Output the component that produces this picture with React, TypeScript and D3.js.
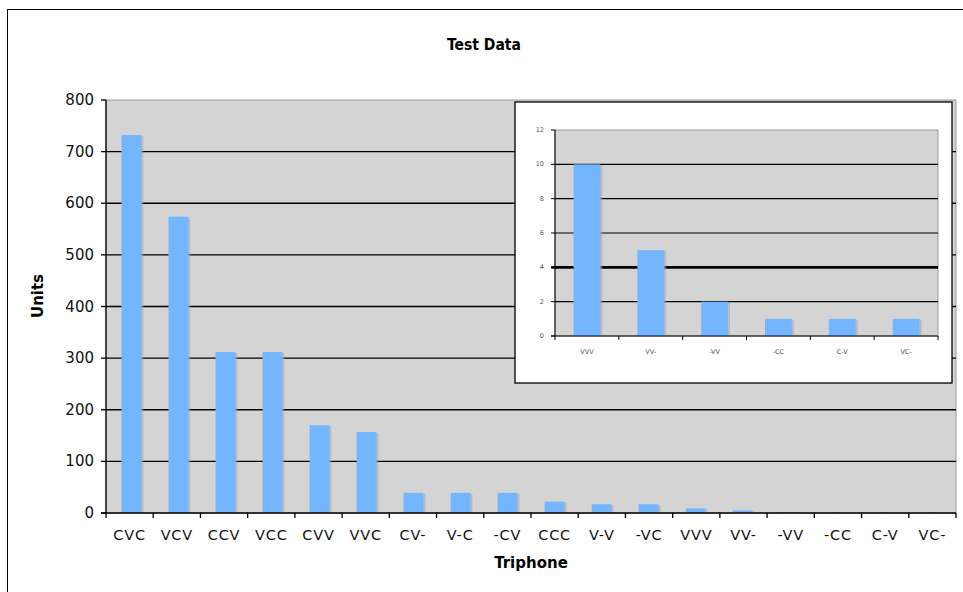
import React from 'react';
import * as d3 from 'd3';

// main chart data
const triphones = ['CVC', 'VCV', 'CCV', 'VCC', 'CVV', 'VVC', 'CV-', 'V-C', '-CV', 'CCC', 'V-V', '-VC', 'VVV', 'VV-', '-VV', '-CC', 'C-V', 'VC-'];
const units = [732, 574, 312, 312, 170, 157, 39, 39, 39, 22, 17, 17, 9, 5, 2, 1, 1, 1];
const yTicks = [0, 100, 200, 300, 400, 500, 600, 700, 800];

// inset (zoomed tail) data
const insetCats = ['VVV', 'VV-', '-VV', '-CC', 'C-V', 'VC-'];
const insetValues = [10, 5, 2, 1, 1, 1];
const insetTicks = [0, 2, 4, 6, 8, 10, 12];

const BAR = '#74b5ff';
const FONT = 'DejaVu Sans, Verdana, sans-serif';

const App = () => {
  const width = 963;
  const height = 592;

  // Main plot area
  const m = { left: 106, right: 956, top: 100, bottom: 513 };
  const x = d3.scaleBand().domain(triphones).range([m.left, m.right]).paddingInner(0.58).paddingOuter(0.33);
  const xEdge = d3.scaleLinear().domain([0, triphones.length]).range([m.left, m.right]);
  const y = d3.scaleLinear().domain([0, 800]).range([m.bottom, m.top]);

  // Inset plot area
  const b = { left: 555, right: 938, top: 130, bottom: 336 };
  const ix = d3.scaleBand().domain(insetCats).range([b.left, b.right]).paddingInner(0.58).paddingOuter(0.29);
  const ixEdge = d3.scaleLinear().domain([0, insetCats.length]).range([b.left, b.right]);
  const iy = d3.scaleLinear().domain([0, 12]).range([b.bottom, b.top]);

  return (
    <svg width={width} height={height} style={{ position: 'absolute', left: 0, top: 0, background: '#fff' }}>
      {/* outer frame */}
      <rect x={7.5} y={9.5} width={width} height={height} fill="#fff" stroke="#000" strokeWidth={1} />

      <text x={484} y={50} textAnchor="middle" fontFamily="DejaVu Sans Condensed, DejaVu Sans, sans-serif" fontWeight="bold" fontSize={15.5}>
        Test Data
      </text>

      {/* plot background */}
      <rect x={m.left} y={m.top} width={m.right - m.left} height={m.bottom - m.top} fill="#d4d4d4" stroke="#9a9a9a" strokeWidth={1} />

      {/* gridlines */}
      {yTicks.slice(1, -1).map((t) => (
        <line key={t} x1={m.left} x2={m.right} y1={y(t)} y2={y(t)} stroke="#000" strokeWidth={1.3} />
      ))}

      {/* bars with soft shadow */}
      {triphones.map((c, i) => (
        <g key={c}>
          <rect x={x(c)! + 2} y={y(units[i]) + 1} width={x.bandwidth()} height={m.bottom - y(units[i]) - 1} fill="#a8a8a8" opacity={0.6} />
          <rect x={x(c)!} y={y(units[i])} width={x.bandwidth()} height={m.bottom - y(units[i])} fill={BAR} />
        </g>
      ))}

      {/* axes */}
      <line x1={m.left} x2={m.left} y1={m.top} y2={m.bottom} stroke="#000" strokeWidth={1.3} />
      <line x1={m.left - 5} x2={m.right} y1={m.bottom} y2={m.bottom} stroke="#000" strokeWidth={1.3} />
      {yTicks.map((t) => (
        <g key={t}>
          <line x1={m.left - 5} x2={m.left} y1={y(t)} y2={y(t)} stroke="#000" strokeWidth={1.3} />
          <text x={m.left - 12} y={y(t) + 5} textAnchor="end" fontFamily={FONT} fontSize={15} fill="#111">
            {t}
          </text>
        </g>
      ))}
      {d3.range(triphones.length + 1).map((i) => (
        <line key={i} x1={xEdge(i)} x2={xEdge(i)} y1={m.bottom} y2={m.bottom + 5} stroke="#000" strokeWidth={1.3} />
      ))}
      {triphones.map((c) => (
        <text key={c} x={xEdge(triphones.indexOf(c) + 0.5)} y={m.bottom + 27} textAnchor="middle" fontFamily={FONT} fontSize={14.5} letterSpacing={0.8} fill="#111">
          {c}
        </text>
      ))}

      <text x={531} y={568} textAnchor="middle" fontFamily={FONT} fontWeight="bold" fontSize={15}>
        Triphone
      </text>
      <text transform="translate(43, 296) rotate(-90)" textAnchor="middle" fontFamily={FONT} fontWeight="bold" fontSize={15}>
        Units
      </text>

      {/* inset */}
      <rect x={515} y={102} width={437} height={281} fill="#fff" stroke="#000" strokeWidth={1.3} />
      <rect x={b.left} y={b.top} width={b.right - b.left} height={b.bottom - b.top} fill="#d4d4d4" stroke="#9a9a9a" strokeWidth={1} />
      {insetTicks.slice(1, -1).map((t) => (
        <line key={t} x1={b.left} x2={b.right} y1={iy(t)} y2={iy(t)} stroke="#000" strokeWidth={t === 4 ? 2.6 : 1.1} />
      ))}
      {insetCats.map((c, i) => (
        <g key={c}>
          <rect x={ix(c)! + 2} y={iy(insetValues[i]) + 1} width={ix.bandwidth()} height={b.bottom - iy(insetValues[i]) - 1} fill="#a8a8a8" opacity={0.6} />
          <rect x={ix(c)!} y={iy(insetValues[i])} width={ix.bandwidth()} height={b.bottom - iy(insetValues[i])} fill={BAR} />
        </g>
      ))}
      <line x1={b.left} x2={b.left} y1={b.top} y2={b.bottom} stroke="#000" strokeWidth={1} />
      <line x1={b.left - 4} x2={b.right} y1={b.bottom} y2={b.bottom} stroke="#000" strokeWidth={1} />
      {insetTicks.map((t) => (
        <g key={t}>
          <line x1={b.left - 4} x2={b.left} y1={iy(t)} y2={iy(t)} stroke="#000" strokeWidth={t === 4 ? 2.6 : 1} />
          <text x={b.left - 11} y={iy(t) + 2} textAnchor="end" fontFamily={FONT} fontSize={6.5} fill="#555">
            {t}
          </text>
        </g>
      ))}
      {d3.range(insetCats.length + 1).map((i) => (
        <line key={i} x1={ixEdge(i)} x2={ixEdge(i)} y1={b.bottom} y2={b.bottom + 4} stroke="#000" strokeWidth={1} />
      ))}
      {insetCats.map((c) => (
        <text key={c} x={ix(c)! + ix.bandwidth() / 2} y={b.bottom + 18} textAnchor="middle" fontFamily={FONT} fontSize={6.5} fill="#555">
          {c}
        </text>
      ))}
    </svg>
  );
};

export default App;
